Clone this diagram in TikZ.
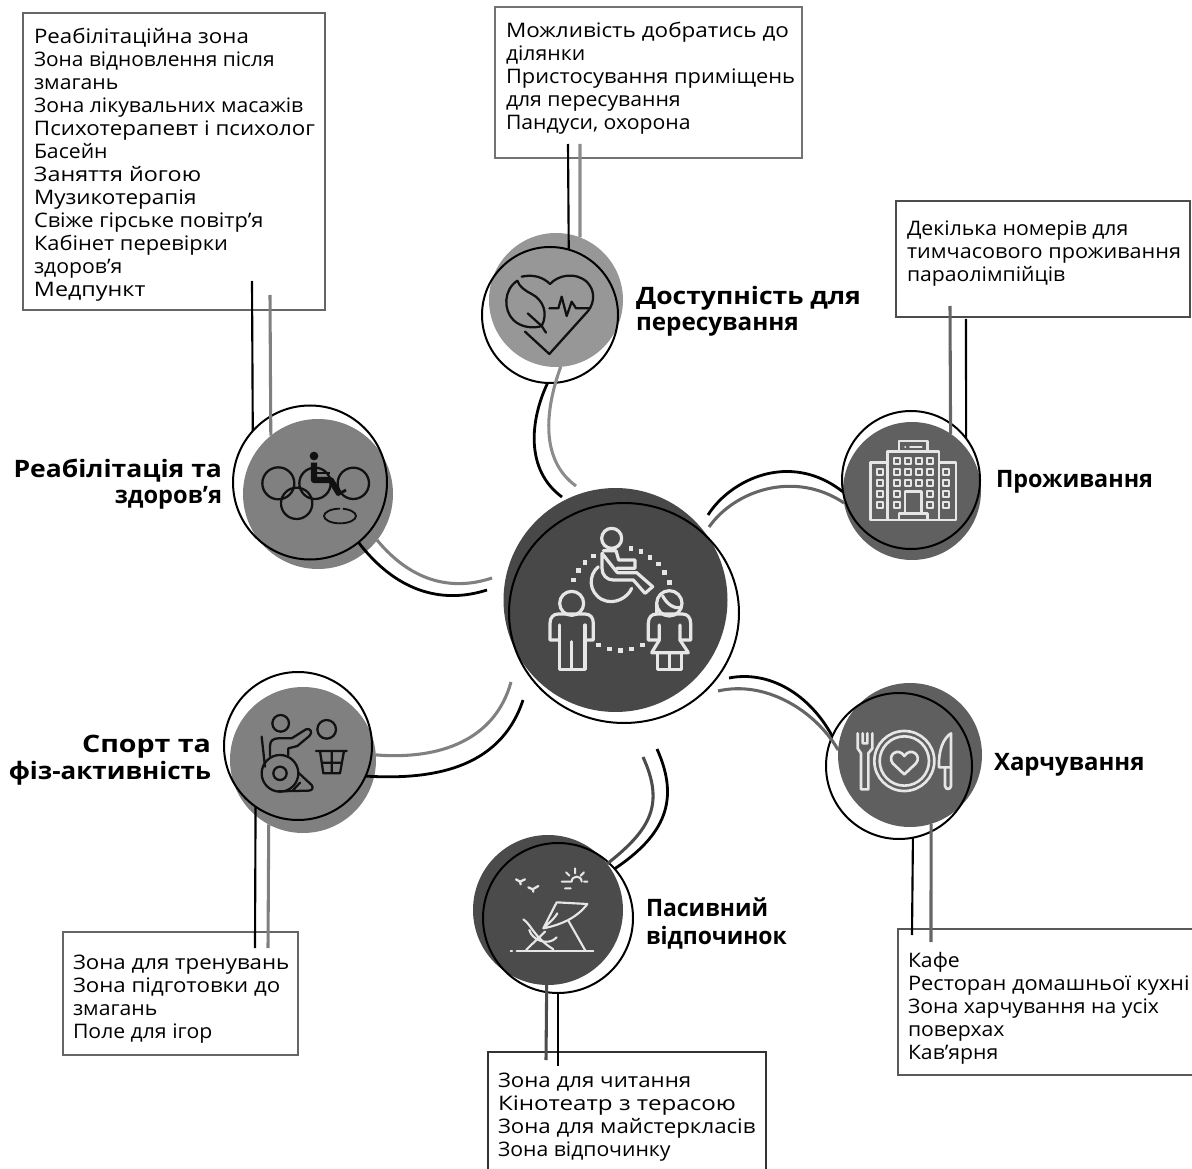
\documentclass[tikz,border=0pt]{standalone}
\usepackage{fontspec}
\setmainfont[FakeStretch=1.06]{Open Sans}
\newfontfamily\boldfam[FakeStretch=1.105]{Open Sans Bold}
\usetikzlibrary{shapes.geometric}
\newcommand{\wfit}[2]{\scalebox{#1}[1]{#2}}
\definecolor{cCentre}{HTML}{484848}
\definecolor{cHeart}{HTML}{979797}
\definecolor{cRehab}{HTML}{808080}
\definecolor{cHotel}{HTML}{606060}
\definecolor{cFood}{HTML}{5F5F5F}
\definecolor{cRest}{HTML}{4B4B4B}
\definecolor{cSport}{HTML}{808080}
\definecolor{iconlight}{HTML}{E6E6E6}
\definecolor{iconink}{HTML}{111111}
\tikzset{
  disc/.style={circle,fill=#1,draw=none,inner sep=0,outer sep=0},
  ring/.style={circle,draw=black,line width=1.5pt,inner sep=0,outer sep=0},
  rad/.style={minimum size=#1*1.5pt},
  frame/.style={rectangle,draw=#1,line width=2.2pt,inner sep=0,outer sep=0,anchor=north west},
  bw/.style={minimum width=#1*0.75pt},
  bh/.style={minimum height=#1*0.75pt},
  body/.style={inner sep=0,outer sep=0,align=left,anchor=north west,font=\fontsize{15}{17.25}\selectfont},
  head/.style={inner sep=0,outer sep=0,font=\boldfam\fontsize{18}{19.5}\selectfont},
  linkv/.style={draw=black,line width=1.6pt},
  linkb/.style={draw=black,line width=2.1pt},
  linkg/.style={draw=#1,line width=2.3pt},
  lighticon/.style={draw=iconlight,line width=2.4pt,line join=round,line cap=round},
  darkicon/.style={draw=iconink,line width=1.7pt,line join=round,line cap=round},
  zoomA/.style={x=0.25pt,y=-0.25pt},
}
\begin{document}
\begin{tikzpicture}[x=0.75pt,y=-0.75pt]
\useasboundingbox (0,0) rectangle (1192,1169);
% boxes
\node[frame=black!60,bw=302,bh=297] (boxRehab) at (23,13) {};
\node[frame=black!55,bw=307,bh=151] (boxAccess) at (495,7) {};
\node[frame=black!70,bw=294,bh=116] (boxLive) at (896,201) {};
\node[frame=black!65,bw=310,bh=146] (boxFood) at (898,929) {};
\node[frame=black!80,bw=278,bh=140] (boxRest) at (488,1052) {};
\node[frame=black!60,bw=235,bh=123] (boxSport) at (63,932) {};
% box text
\node[body] (txtRehab) at (34,27) {\strut\wfit{1.05}{Реабілітаційна зона}\\\wfit{.985}{Зона відновлення після}\\змагань\\Зона лікувальних масажів\\\wfit{1.055}{Психотерапевт і психолог}\\Басейн\\\wfit{1.1}{Заняття йогою}\\\wfit{1.06}{Музикотерапія}\\\wfit{1.03}{Свіже гірське повітр’я}\\\wfit{1.03}{Кабінет перевірки}\\здоров’я\\\wfit{1.1}{Медпункт}};
\node[body] (txtAccess) at (506,21) {\strut\wfit{1.06}{Можливість добратись до}\\ділянки\\\wfit{1.03}{Пристосування приміщень}\\для пересування\\Пандуси, охорона};
\node[body] (txtLive) at (907,219) {\strut Декілька номерів для\\\wfit{1.02}{тимчасового проживання}\\параолімпійців};
\node[body] (txtFood) at (908,951) {\strut Кафе\\\wfit{1.03}{Ресторан домашньої кухні}\\Зона харчування на усіх\\поверхах\\Кав’ярня};
\node[body] (txtRest) at (498,1071) {\strut\wfit{1.05}{Зона для читання}\\\wfit{1.14}{Кінотеатр з терасою}\\\wfit{1.05}{Зона для майстеркласів}\\Зона відпочинку};
\node[body] (txtSport) at (73,953) {\strut\wfit{1.05}{Зона для тренувань}\\\wfit{1.05}{Зона підготовки до}\\змагань\\Поле для ігор};
% filled discs
\node[disc=cCentre,rad=112] (fCentre) at (615.5,600) {};
\node[disc=cHeart,rad=67] (fHeart) at (556,300) {};
\node[disc=cRehab,rad=75] (fRehab) at (318,494) {};
\node[disc=cHotel,rad=69] (fHotel) at (912,491) {};
\node[disc=cFood,rad=72] (fFood) at (910,755) {};
\node[disc=cRest,rad=75] (fRest) at (548,910) {};
\node[disc=cSport,rad=73] (fSport) at (303,760) {};
% free ends of the connectors
\coordinate (hb) at (562,497); \coordinate (hg) at (576,486);
\coordinate (lb) at (708,515); \coordinate (lg) at (709,527);
\coordinate (eb) at (729,678); \coordinate (eg) at (718,691);
\coordinate (pb) at (657,749); \coordinate (pg) at (643,757);
\coordinate (sb) at (523,700); \coordinate (sg) at (511,682);
\coordinate (rb) at (487,590); \coordinate (rg) at (492,578);
\coordinate (vHb) at (568,144); \coordinate (vHg) at (580,144);
\coordinate (vRb) at (252,281); \coordinate (vRg) at (270,295);
\coordinate (vLg) at (950,306); \coordinate (vLb) at (966,319);
\coordinate (vFb) at (912,935); \coordinate (vFg) at (931,942);
\coordinate (vPg) at (546,1060); \coordinate (vPb) at (558,1066);
\coordinate (vSb) at (255,948); \coordinate (vSg) at (268,948);
% centre icon
\begin{scope}[shift={(460,460)},zoomA]
 \draw[lighticon] (455,235) circle (30);
 \draw[lighticon] (430,272) -- (468,272) -- (476,300) -- (525,300) -- (525,325) -- (470,325) (472,338) -- (530,338) -- (578,380) -- (555,400) -- (520,360) -- (460,360) .. controls (440,360) and (426,345) .. (426,325) -- (426,280) -- cycle;
 \draw[lighticon] (415,320) .. controls (385,345) and (385,395) .. (425,418) .. controls (465,438) and (505,410) .. (515,385);
 \foreach \px/\py in {340/360,355/332,375/307,400/288,513/265,543/275,570/292,595/312,613/337,628/367,415/555,448/567,482/572,515/567,548/555}
   \fill[iconlight] (\px-7,\py-7) rectangle (\px+7,\py+7);
 \draw[lighticon] (335,430) circle (36);
 \draw[lighticon] (298,540) -- (270,540) -- (270,490) .. controls (270,472) and (280,462) .. (295,462) -- (375,462) .. controls (390,462) and (400,472) .. (400,490) -- (400,540) -- (375,540);
 \draw[lighticon] (298,495) -- (298,628) -- (375,628) -- (375,495) (335,545) -- (335,628);
 \draw[lighticon] (628,430) circle (38);
 \draw[lighticon] (608,408) .. controls (620,430) and (640,448) .. (664,442);
 \draw[lighticon] (590,462) -- (590,430);
 \draw[lighticon] (598,540) -- (565,540) -- (565,490) .. controls (565,472) and (575,462) .. (590,462) -- (667,462) .. controls (682,462) and (692,472) .. (692,490) -- (692,540) -- (660,540);
 \draw[lighticon] (598,495) -- (598,540) -- (575,578) -- (685,578) -- (660,540) -- (660,495);
 \draw[lighticon] (592,578) -- (592,628) -- (665,628) -- (665,578) (628,578) -- (628,628);
\end{scope}
% heart icon
\begin{scope}[shift={(460,220)},zoomA]
 \draw[darkicon] (185,170) .. controls (220,162) and (250,172) .. (270,192) .. controls (295,165) and (345,155) .. (380,185) .. controls (405,210) and (405,245) .. (385,272) -- (268,402) -- (195,335);
 \draw[darkicon] (172,182) .. controls (130,210) and (130,270) .. (160,300) .. controls (185,325) and (225,325) .. (245,318) .. controls (265,280) and (250,240) .. (215,222) .. controls (195,212) and (178,200) .. (172,182);
 \draw[darkicon] (203,280) -- (245,318) -- (258,338);
 \draw[darkicon] (268,265) -- (295,265) -- (305,230) -- (320,288) -- (335,245) -- (348,265) -- (390,265);
\end{scope}
% rehabilitation icon
\begin{scope}[shift={(230,400)},zoomA]
 \draw[darkicon] (145,250) circle (48) (200,310) circle (47) (255,250) circle (47) (370,250) circle (47);
 \fill[iconink] (252,168) circle (13);
 \draw[draw=iconink,line width=4.6pt,line join=round] (252,188) -- (252,240) -- (302,240) -- (328,282);
 \draw[draw=iconink,line width=1.6pt] (260,218) -- (300,218);
 \draw[draw=iconink,line width=2.2pt] (322,285) -- (348,270);
 \draw[darkicon,line width=1.4pt,dash pattern=on 42pt off 3pt] (330,348) ellipse (48 and 22);
\end{scope}
% hotel icon
\begin{scope}[shift={(830,410)},zoomA]
 \draw[lighticon,line cap=butt,line width=1.9pt] (207,125) rectangle (293,93) (172,330) rectangle (327,125) (122,330) rectangle (172,158) (327,330) rectangle (378,158) (225,310) rectangle (275,245) (207,330) rectangle (293,310);
 \draw[lighticon,line width=1.4pt] (225,110) -- (226,110) (240,110) -- (275,110);
 \foreach \wx/\wy in {200/153,233/153,266/153,299/153,200/186,233/186,266/186,299/186,200/219,233/219,266/219,299/219,200/252,299/252,200/285,299/285,150/186,150/219,150/252,150/285,349/186,349/219,349/252,349/285}
   \draw[lighticon,line width=1.5pt] (\wx-9,\wy-8) rectangle (\wx+9,\wy+8);
\end{scope}
% food icon
\begin{scope}[shift={(825,680)},zoomA]
 \draw[lighticon,line width=2pt] (98,160) -- (98,205) -- (108,220) -- (108,328) -- (130,328) -- (130,220) -- (142,205) -- (142,160) (113,160) -- (113,190) -- (127,190) -- (127,160);
 \draw[lighticon,line width=2pt] (238,243) circle (90) (238,243) circle (74);
 \draw[lighticon,line width=2pt] (238,283) -- (203,250) .. controls (185,225) and (220,200) .. (238,228) .. controls (256,200) and (292,225) .. (273,250) -- cycle;
 \draw[lighticon,line width=2pt] (378,160) .. controls (355,175) and (340,210) .. (342,262) -- (360,262) -- (360,318) .. controls (362,330) and (376,330) .. (378,318) -- (378,160) (360,262) -- (378,262);
\end{scope}
% rest icon
\begin{scope}[shift={(470,830)},zoomA]
 \draw[lighticon,line width=1.7pt] (138,148) -- (150,155) -- (165,148) (150,155) -- (152,163) (175,172) -- (188,178) -- (205,168) (188,178) -- (190,185);
 \draw[lighticon,line width=1.5pt] (275,155) -- (305,155) (305,155) .. controls (305,135) and (335,135) .. (335,155) (342,155) -- (352,155) (285,175) -- (302,175) (315,115) -- (315,130) (288,127) -- (298,137) (342,127) -- (332,137);
 \draw[lighticon,line width=1.6pt] (260,217) -- (352,222) .. controls (320,265) and (270,285) .. (220,295) -- cycle (220,295) .. controls (235,280) and (250,270) .. (262,250);
 \draw[lighticon,line width=1.6pt] (295,272) -- (345,360);
 \draw[lighticon,line width=1.6pt] (140,362) -- (370,362) (122,362) -- (126,362);
 \draw[lighticon,line width=1.6pt] (160,268) .. controls (185,285) and (190,320) .. (250,358) (168,360) -- (225,305) (178,300) .. controls (185,330) and (235,350) .. (260,322);
\end{scope}
% sport icon
\begin{scope}[shift={(220,670)},zoomA]
 \draw[darkicon] (182,160) circle (25) (320,178) circle (28);
 \draw[darkicon] (125,200) -- (135,290);
 \draw[darkicon] (180,310) circle (55) (180,310) circle (20);
 \draw[darkicon] (150,258) -- (150,228) .. controls (150,212) and (160,205) .. (175,205) -- (215,205) -- (258,178) .. controls (270,172) and (280,188) .. (268,198) -- (232,228) -- (205,235) -- (205,255);
 \draw[darkicon] (235,308) -- (275,345) .. controls (282,355) and (275,362) .. (265,362) -- (175,364) (218,362) -- (240,338);
 \draw[darkicon] (288,243) -- (380,243) (300,243) -- (310,310) -- (360,310) -- (372,243) (335,243) -- (335,310) (305,278) -- (365,278);
\end{scope}
% rings
\node[ellipse,draw=black,line width=1.5pt,inner sep=0,outer sep=0,minimum width=172.5pt,minimum height=165pt] (oCentre) at (624,613) {};
\node[ring,rad=68] (oHeart) at (550,315) {};
\node[ring,rad=77] (oRehab) at (310,482.5) {};
\node[ring,rad=69] (oHotel) at (911,480) {};
\node[ring,rad=73] (oFood) at (899,766) {};
\node[ring,rad=75] (oRest) at (558,918) {};
\node[ring,rad=74] (oSport) at (298,746) {};
% straight connectors
\draw[linkv] (vHb) -- (oHeart.74.6);
\draw[linkg=black!45] (vHg) -- (fHeart.69.9);
\draw[linkv] (vRb) -- (oRehab.138.9);
\draw[linkg=black!50] (vRg) -- (fRehab.129.8);
\draw[linkg=black!60] (vLg) -- (fHotel.56.6);
\draw[linkv] (vLb) -- (oHotel.37.2);
\draw[linkv] (oFood.-79.7) -- (vFb);
\draw[linkg=black!60] (fFood.-73) -- (vFg);
\draw[linkg=black!70] (fRest.-91.5) -- (vPg);
\draw[linkv] (oRest.-90) -- (vPb);
\draw[linkv] (oSport.-125.5) -- (vSb);
\draw[linkg=black!50] (fSport.-118.7) -- (vSg);
% curved connectors
\draw[linkb] (oHeart.-92) .. controls (530,420) and (525,470) .. (hb);
\draw[linkg=black!45] (fHeart.-86.6) .. controls (545,410) and (540,460) .. (hg);
\draw[linkb] (lb) .. controls (730,480) and (790,450) .. (oHotel.190);
\draw[linkg=black!60] (lg) .. controls (735,490) and (795,470) .. (fHotel.190);
\draw[linkb] (eb) .. controls (770,670) and (810,695) .. (oFood.156.6);
\draw[linkg=black!60] (eg) .. controls (765,680) and (815,710) .. (fFood.176);
\draw[linkb] (pb) .. controls (680,800) and (665,835) .. (oRest.41);
\draw[linkg=black!70] (pg) .. controls (665,805) and (650,830) .. (fRest.38);
\draw[linkb] (sb) .. controls (500,770) and (430,780) .. (oSport.-24);
\draw[linkg=black!50] (sg) .. controls (495,740) and (440,760) .. (fSport.4);
\draw[linkb] (oRehab.-51.6) .. controls (395,590) and (440,605) .. (rb);
\draw[linkg=black!50] (fRehab.-38) .. controls (410,580) and (450,592) .. (rg);
% headings
\node[head,align=left,anchor=north west] (hAccess) at (636,286) {\strut Доступність для\\\wfit{.915}{пересування}};
\node[head,align=left,anchor=north west] (hLive) at (996,469) {\strut\wfit{.88}{Проживання}};
\node[head,align=left,anchor=north west] (hFood) at (994,752) {\strut\wfit{.904}{Харчування}};
\node[head,align=left,anchor=north west] (hRest) at (646,898) {\strut\wfit{.865}{Пасивний}\\\wfit{.864}{відпочинок}};
\node[head,align=right,anchor=north east] (hSport) at (211,734) {\strut\wfit{1.08}{Спорт та}\\\wfit{.98}{фіз-активність}};
\node[head,align=right,anchor=north east] (hRehab) at (222,459) {\strut Реабілітація та\\\wfit{.89}{здоров’я}};
\end{tikzpicture}
\end{document}
